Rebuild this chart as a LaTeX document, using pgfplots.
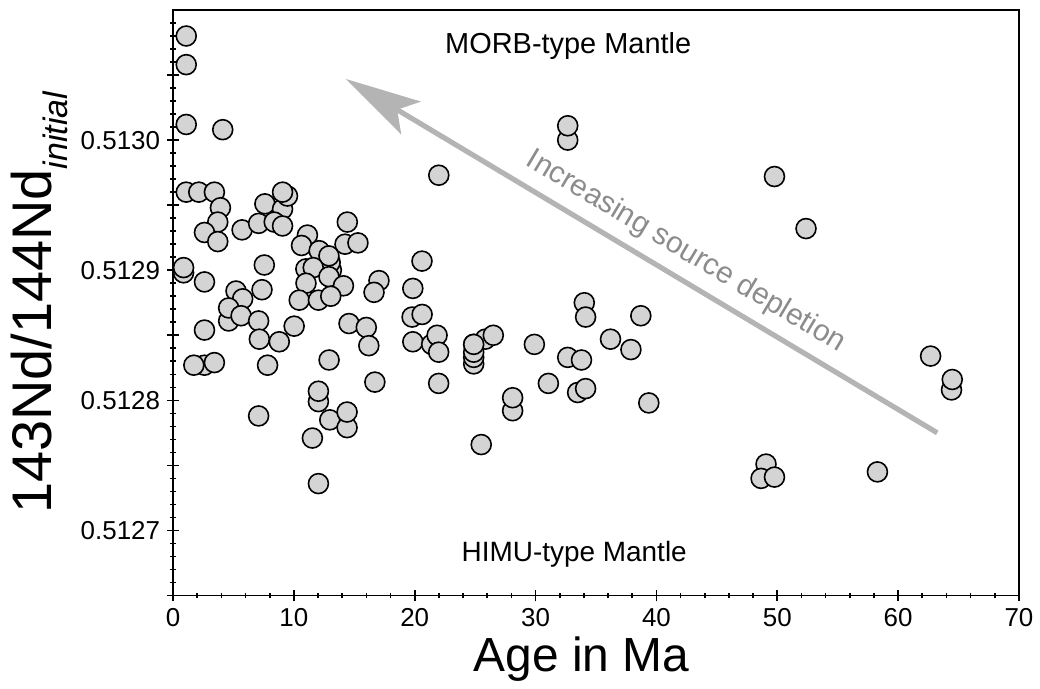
\documentclass[border=0pt]{standalone}
\usepackage{pgfplots}
\pgfplotsset{compat=1.18}
\usepackage{fontspec}
\setmainfont{Liberation Sans}
\usetikzlibrary{arrows.meta}
\definecolor{markfill}{RGB}{212,212,212}
\definecolor{arrowgray}{RGB}{180,180,180}
\definecolor{textgray}{RGB}{140,140,140}
\begin{document}
\begin{tikzpicture}
\begin{axis}[
  scale only axis,
  width=424pt, height=293.5pt,
  xmin=0, xmax=70,
  ymin=0.51265, ymax=0.5131,
  axis line style={line width=0.9pt},
  xtick={0,10,20,30,40,50,60,70},
  xticklabels={0,10,20,30,40,50,60,70},
  minor x tick num=4,
  ytick={0.5127,0.5128,0.5129,0.5130},
  yticklabels={0.5127,0.5128,0.5129,0.5130},
  extra y ticks={0.51265,0.51275,0.51285,0.51295,0.51305},
  extra y tick labels={},
  minor ytick={0.51266,0.51267,0.51268,0.51269,0.51271,0.51272,0.51273,0.51274,0.51276,0.51277,0.51278,0.51279,0.51281,0.51282,0.51283,0.51284,0.51286,0.51287,0.51288,0.51289,0.51291,0.51292,0.51293,0.51294,0.51296,0.51297,0.51298,0.51299,0.51301,0.51302,0.51303,0.51304,0.51306,0.51307,0.51308,0.51309},
  xtick pos=bottom, ytick pos=left,
  tick align=center,
  major tick length=6pt, minor tick length=3pt,
  every tick/.style={line width=0.8pt},
  tick label style={font=\fontsize{13}{15}\selectfont},
  xlabel={Age in Ma},
  xlabel style={font=\fontsize{24}{28}\selectfont, at={(axis description cs:0.483,0)}, anchor=center, yshift=-32pt},
  ylabel={143Nd/144Nd\raisebox{-0.28em}{\fontsize{17}{19}\selectfont\itshape initial}},
  ylabel style={font=\fontsize{28}{32}\selectfont, at={(axis description cs:-0.158,0.5)}, anchor=center, rotate=0},
  clip=false,
]
\draw[arrowgray, line width=2.6pt, -{Stealth[length=38pt,width=19pt,inset=8pt]}]
  (axis cs:63.24,0.512775) -- (axis cs:14.29,0.513047);
\node[text=textgray, rotate=-30.8, font=\fontsize{15}{18}\selectfont] at (axis cs:42.45,0.512914) {Increasing source depletion};
\node[font=\fontsize{14.5}{17}\selectfont] at (axis cs:32.7,0.513072) {MORB-type Mantle};
\node[font=\fontsize{14}{17}\selectfont] at (axis cs:33.2,0.512682) {HIMU-type Mantle};
\addplot[only marks, mark=*, mark size=5pt, mark options={fill=markfill, draw=black, line width=0.8pt}] table {
x y
1.09 0.51308
1.09 0.513058
1.09 0.513012
4.11 0.513008
1.09 0.51296
2.13 0.51296
3.42 0.51296
3.92 0.512948
3.70 0.512937
2.6 0.512929
3.70 0.512922
5.71 0.512931
7.08 0.512936
7.6 0.512951
9.06 0.512947
9.47 0.512957
9.06 0.51296
8.37 0.512937
9.06 0.512934
11.12 0.512927
10.63 0.512919
12.09 0.512915
13.1 0.5129
13.0 0.512906
12.9 0.512911
14.42 0.512937
14.23 0.51292
15.3 0.512921
21.99 0.512973
32.66 0.5130
32.66 0.513011
0.87 0.512898
0.87 0.512902
7.55 0.512904
10.99 0.512901
11.6 0.512902
20.6 0.512907
12.9 0.512895
14.1 0.512888
11.0 0.51289
2.6 0.512891
5.21 0.512884
7.36 0.512885
5.76 0.512878
10.44 0.512877
12.03 0.512877
13.05 0.51288
17.04 0.512892
16.63 0.512883
19.84 0.512886
4.6 0.512861
4.6 0.512871
5.63 0.512865
7.08 0.512861
10.02 0.512857
14.56 0.512859
15.99 0.512856
19.78 0.512864
20.61 0.512866
34.03 0.512875
34.14 0.512864
2.6 0.512854
19.84 0.512845
21.4 0.512843
21.85 0.51285
24.88 0.512843
25.84 0.512847
26.5 0.51285
29.9 0.512843
36.2 0.512847
7.14 0.512847
8.79 0.512845
2.6 0.512827
1.72 0.512827
3.42 0.512829
7.82 0.512827
7.08 0.512788
12.91 0.512831
16.2 0.512842
16.7 0.512814
12.03 0.512799
12.03 0.512807
12.97 0.512785
14.4 0.512779
14.4 0.512791
11.53 0.512771
12.03 0.512736
21.98 0.512837
21.98 0.512813
24.88 0.512828
24.88 0.512833
24.88 0.512837
24.88 0.512843
25.5 0.512766
28.1 0.512792
28.1 0.512802
31.06 0.512813
32.66 0.512833
33.8 0.512831
33.48 0.512806
34.14 0.512809
49.77 0.512972
52.38 0.512932
38.71 0.512865
37.89 0.512839
39.37 0.512798
62.69 0.512834
64.42 0.512808
64.48 0.512816
49.07 0.512751
48.66 0.51274
49.77 0.512741
58.29 0.512745
};
\end{axis}
\path (current axis.south west) ++(-86.75pt,-45.5pt) coordinate (bl);
\path (current axis.north east) ++(9pt,5pt) coordinate (tr);
\path (bl) rectangle (tr);
\end{tikzpicture}
\end{document}
